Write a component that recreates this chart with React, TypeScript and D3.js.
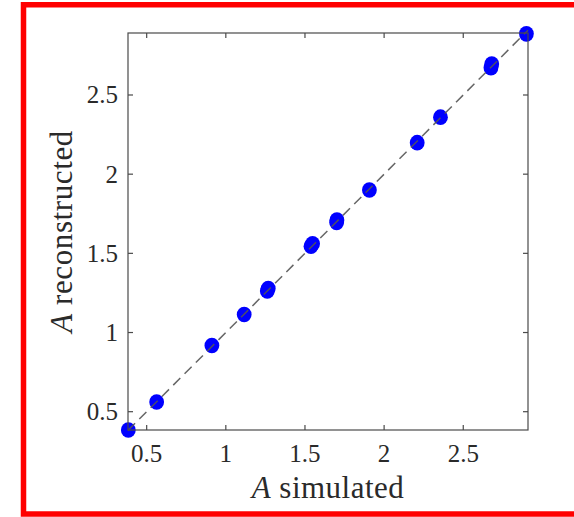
import React from "react";
import * as d3 from "d3";

const simulated = [0.384, 0.563, 0.912, 1.116, 1.262, 1.268, 1.538, 1.548, 1.70, 1.702, 1.907, 2.209, 2.356, 2.675, 2.68, 2.899];
const reconstructed = [0.384, 0.561, 0.918, 1.114, 1.262, 1.278, 1.545, 1.56, 1.695, 1.71, 1.90, 2.199, 2.36, 2.672, 2.695, 2.886];
const xTicks = [0.5, 1, 1.5, 2, 2.5];
const yTicks = [0.5, 1, 1.5, 2, 2.5];
const xDomain = [0.382, 2.909];
const yDomain = [0.3844, 2.8915];
const identityLine = [0.382, 2.909];

const W = 574;
const H = 517;
const left = 128, right = 528, top = 33, bottom = 430;

export default function App() {
  const x = d3.scaleLinear().domain(xDomain).range([left, right]);
  const y = d3.scaleLinear().domain(yDomain).range([bottom, top]);
  const axisColor = "#4a4a4a";
  const textColor = "#2a2a2a";
  const tickLen = 5;
  const line = d3.line<number>().x((d) => x(d)).y((d) => y(d));
  const pts = simulated.map((s, i) => [s, reconstructed[i]]);

  return (
    <svg width={W} height={H} style={{ position: "absolute", left: 0, top: 0, background: "#fff" }}>
      <rect x={0} y={0} width={W} height={H} fill="#fff" />
      <rect x={23.5} y={4.75} width={620} height={509.25} fill="none" stroke="#ff0000" strokeWidth={5.5} />
      <g>
        {pts.map((p, i) => (
          <ellipse key={i} cx={x(p[0])} cy={y(p[1])} rx={7.4} ry={7.8} fill="#0000ff" />
        ))}
      </g>
      <path
        d={line(identityLine) || ""}
        fill="none"
        stroke="#555"
        strokeWidth={1.5}
        strokeDasharray="10 6"
        opacity={0.9}
      />
      <rect x={left} y={top} width={right - left} height={bottom - top} fill="none" stroke={axisColor} strokeWidth={1.2} />
      {xTicks.map((t) => (
        <g key={"x" + t}>
          <line x1={x(t)} x2={x(t)} y1={bottom} y2={bottom - tickLen} stroke={axisColor} strokeWidth={1.2} />
          <line x1={x(t)} x2={x(t)} y1={top} y2={top + tickLen} stroke={axisColor} strokeWidth={1.2} />
          <text
            x={x(t)}
            y={462}
            textAnchor="middle"
            fontFamily="'Liberation Serif', serif"
            fontSize={25}
            fill={textColor}
          >
            {String(t)}
          </text>
        </g>
      ))}
      {yTicks.map((t) => (
        <g key={"y" + t}>
          <line x1={left} x2={left + tickLen} y1={y(t)} y2={y(t)} stroke={axisColor} strokeWidth={1.2} />
          <line x1={right} x2={right - tickLen} y1={y(t)} y2={y(t)} stroke={axisColor} strokeWidth={1.2} />
          <text
            x={118}
            y={y(t) + 8.5}
            textAnchor="end"
            fontFamily="'Liberation Serif', serif"
            fontSize={25}
            fill={textColor}
          >
            {String(t)}
          </text>
        </g>
      ))}
      <text
        x={(left + right) / 2}
        y={498}
        textAnchor="middle"
        fontFamily="'Liberation Serif', serif"
        fontSize={31}
        letterSpacing={0.5}
        fill={textColor}
      >
        <tspan fontStyle="italic">A</tspan> simulated
      </text>
      <text
        transform={`translate(72,${(top + bottom) / 2}) rotate(-90)`}
        textAnchor="middle"
        fontFamily="'Liberation Serif', serif"
        fontSize={31}
        letterSpacing={0.6}
        fill={textColor}
      >
        <tspan fontStyle="italic">A</tspan> reconstructed
      </text>
    </svg>
  );
}
